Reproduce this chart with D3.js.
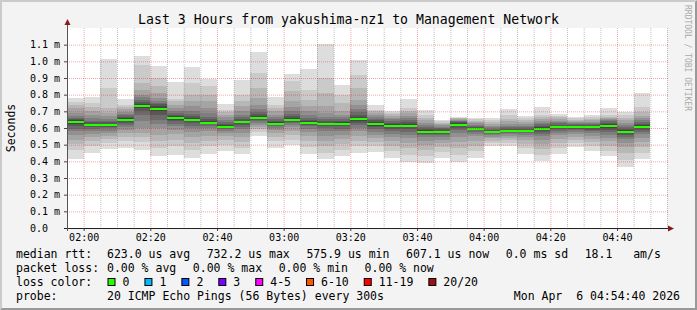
<!DOCTYPE html>
<html>
<head>
<meta charset="utf-8">
<script src="https://cdn.jsdelivr.net/npm/d3@7"></script>
<style>
  html, body { margin: 0; padding: 0; background: #f3f3f3; }
  svg { display: block; }
  text { font-family: "DejaVu Sans Mono", monospace; fill: #000; }
</style>
</head>
<body>
<script>
// end time of every 5 minute step
var binEnds = ["02:00","02:05","02:10","02:15","02:20","02:25","02:30","02:35","02:40","02:45",
  "02:50","02:55","03:00","03:05","03:10","03:15","03:20","03:25","03:30","03:35",
  "03:40","03:45","03:50","03:55","04:00","04:05","04:10","04:15","04:20","04:25",
  "04:30","04:35","04:40","04:45","04:50"];

// median rtt per step, in us
var medians = [638,618,618,650,732,716,658,650,632,608,636,662,626,650,632,622,626,656,624,614,
  614,578,578,620,596,576,584,584,596,608,608,604,614,576,607];

// the 20 sorted pings of every step, in us
var pings = [
  [414,470,505,530,560,582,596,612,626,634,641,646,652,660,672,690,720,740,756,782],
  [452,490,520,545,565,580,595,605,612,616,620,626,634,645,660,678,700,725,750,788],
  [476,510,535,555,570,585,598,606,612,616,620,626,634,642,652,670,690,720,840,1014],
  [482,520,548,570,590,605,620,632,640,646,654,660,668,676,686,698,712,726,738,774],
  [470,516,545,570,600,640,680,705,720,728,736,745,756,770,785,800,830,870,980,1034],
  [434,480,520,560,600,625,650,680,700,710,722,732,742,752,765,780,810,850,900,974],
  [440,490,530,565,590,610,625,640,650,655,662,670,680,692,705,720,740,760,775,878],
  [422,470,510,545,575,598,615,630,642,648,654,662,672,686,705,730,765,800,870,968],
  [446,490,525,555,580,600,612,622,628,631,635,642,652,668,690,720,760,800,852,896],
  [464,500,530,552,570,585,595,600,604,607,610,616,626,638,650,664,680,695,710,746],
  [446,480,515,545,570,592,608,620,630,634,638,644,652,664,680,700,730,765,800,890],
  [554,575,592,606,618,630,640,648,655,660,665,672,682,696,715,740,780,840,930,1058],
  [482,520,548,570,588,600,610,617,622,625,628,634,642,652,665,680,700,720,740,788],
  [500,530,560,585,605,620,630,638,645,648,652,660,670,684,700,725,760,820,882,924],
  [446,485,520,550,575,595,610,620,627,631,634,640,650,662,678,700,730,770,830,956],
  [416,450,490,525,555,580,598,610,617,620,624,630,640,652,668,690,730,810,900,1106],
  [434,470,505,535,560,580,597,610,618,622,627,634,642,652,664,680,702,750,800,858],
  [452,490,525,555,580,600,618,632,644,652,660,668,680,695,715,740,770,840,920,1008],
  [456,490,518,540,560,578,592,604,614,620,628,636,646,656,666,678,690,700,710,738],
  [422,460,495,525,548,566,582,596,606,612,617,624,632,642,652,662,672,682,692,702],
  [398,440,480,512,540,560,578,592,604,610,618,626,636,648,660,674,690,705,720,774],
  [392,430,468,500,525,545,558,566,572,576,580,586,594,604,616,630,646,662,680,708],
  [422,455,485,510,530,546,558,566,572,576,580,585,592,600,608,616,624,632,640,648],
  [398,440,480,515,545,570,588,602,612,617,623,628,634,640,645,650,655,660,663,666],
  [422,460,495,525,550,566,578,586,592,595,598,602,608,614,620,628,636,644,652,660],
  [494,510,525,538,548,556,563,568,572,575,578,582,588,596,605,615,626,638,648,660],
  [494,512,528,542,554,564,572,577,581,583,586,590,596,604,614,626,640,656,678,716],
  [446,478,505,528,546,560,570,577,581,583,586,590,596,604,614,626,638,650,662,672],
  [404,440,475,505,530,550,566,578,588,594,598,604,612,622,632,644,656,668,678,726],
  [446,480,510,536,556,572,584,594,602,606,610,614,620,628,636,644,654,664,672,684],
  [488,510,530,548,562,574,586,596,602,606,610,614,620,626,632,638,644,650,658,666],
  [464,490,514,536,554,568,580,590,598,602,606,610,616,622,630,638,646,656,666,678],
  [434,465,495,520,542,560,576,590,602,610,617,624,632,640,648,654,660,664,680,720],
  [368,410,450,485,512,532,548,560,568,573,579,586,594,604,616,630,646,662,680,698],
  [416,452,488,518,542,562,578,590,600,605,611,618,626,636,648,660,675,695,728,810]
];

var yTicks = [0,100,200,300,400,500,600,700,800,900,1000,1100];
var yTickLabels = ["0.0","0.1 m","0.2 m","0.3 m","0.4 m","0.5 m","0.6 m","0.7 m","0.8 m","0.9 m","1.0 m","1.1 m"];
var xTicks = ["02:00","02:20","02:40","03:00","03:20","03:40","04:00","04:20","04:40"];

var lossLabels = ["0","1","2","3","4-5","6-10","11-19","20/20"];
var lossColors = ["#26ff00","#00b8ff","#0059ff","#7e00ff","#ff00ff","#ff5500","#ff0000","#a01010"];

var rttStats = ["623.0 us avg","732.2 us max","575.9 us min","607.1 us now","0.0 ms sd","18.1   am/s"];
var lossStats = ["0.00 % avg","0.00 % max","0.00 % min","0.00 % now"];

// smoke greys, outer pair of pings first
var smokeGreys = ["#dddddd","#cacaca","#b7b7b7","#a4a4a4","#919191","#7e7e7e","#6b6b6b","#585858","#454545","#323232"];

var width = 697, height = 310;
var plotL = 67, plotR = 667, plotT = 28, plotB = 228;

var parse = d3.timeParse("%H:%M");
var x = d3.scaleTime().domain([parse("01:55"), parse("04:55")]).range([plotL, plotR]);
var y = d3.scaleLinear().domain([0, 1200]).range([plotB, plotT]);

var svg = d3.select("body").append("svg")
  .attr("width", width)
  .attr("height", height);

// background and 3d border
svg.append("rect").attr("width", width).attr("height", height).attr("fill", "#f3f3f3");
svg.append("path").attr("d", "M0,0H697L695,2H2V308L0,310Z").attr("fill", "#cbcbcb");
svg.append("path").attr("d", "M697,0V310H0L2,308H695V2Z").attr("fill", "#999999");

// canvas
svg.append("rect")
  .attr("x", plotL).attr("y", plotT)
  .attr("width", plotR - plotL).attr("height", plotB - plotT)
  .attr("fill", "#ffffff");

function stepX0(i) { return Math.round(x(d3.timeMinute.offset(parse(binEnds[i]), -5))); }
function stepX1(i) { return Math.round(x(parse(binEnds[i]))); }

// smoke
var smoke = svg.append("g");
pings.forEach(function(p, i) {
  smoke.selectAll(null)
    .data(smokeGreys)
    .enter().append("rect")
    .attr("x", stepX0(i))
    .attr("width", stepX1(i) - stepX0(i))
    .attr("y", function(c, k) { return Math.round(y(p[19 - k])); })
    .attr("height", function(c, k) { return Math.round(y(p[k])) - Math.round(y(p[19 - k])); })
    .attr("fill", function(c) { return c; });
});

// median line
svg.append("g").selectAll("rect")
  .data(medians)
  .enter().append("rect")
  .attr("x", function(d, i) { return stepX0(i); })
  .attr("width", function(d, i) { return stepX1(i) - stepX0(i); })
  .attr("y", function(d) { return Math.round(y(d)) - 1; })
  .attr("height", 2)
  .attr("fill", lossColors[0]);

// grid, drawn over the smoke like rrdtool does
var minorTimes = x.ticks(d3.timeMinute.every(5)).filter(function(t) { return t.getMinutes() % 20 != 0; });
svg.append("g")
  .attr("transform", "translate(0," + plotT + ")")
  .call(d3.axisBottom(x).tickValues(minorTimes).tickSize(plotB - plotT).tickFormat(""))
  .call(function(g) {
    g.select(".domain").remove();
    g.selectAll("line").attr("stroke", "rgba(120,120,120,0.45)").attr("stroke-dasharray", "1,1");
  });

svg.append("g")
  .attr("transform", "translate(0," + plotT + ")")
  .call(d3.axisBottom(x).tickValues(xTicks.map(parse)).tickSize(plotB - plotT).tickFormat(""))
  .call(function(g) {
    g.select(".domain").remove();
    g.selectAll("line").attr("stroke", "rgba(230,0,0,0.35)").attr("stroke-dasharray", "1,1");
  });

svg.append("g")
  .attr("transform", "translate(" + plotL + ",0)")
  .call(d3.axisRight(y).tickValues(yTicks.slice(1)).tickSize(plotR - plotL + 1).tickFormat(""))
  .call(function(g) {
    g.select(".domain").remove();
    g.selectAll("line").attr("stroke", "rgba(230,0,0,0.35)").attr("stroke-dasharray", "1,1");
  });

// axes with labels
svg.append("g")
  .attr("transform", "translate(0," + plotB + ")")
  .call(d3.axisBottom(x)
    .tickValues(xTicks.map(parse))
    .tickSize(3)
    .tickPadding(3)
    .tickFormat(function(d, i) { return xTicks[i]; }))
  .call(function(g) {
    g.select(".domain").remove();
    g.selectAll("line").attr("stroke", "#444");
    g.selectAll("text").attr("font-family", "DejaVu Sans Mono").attr("font-size", "10px").attr("fill", "#000");
  });

svg.append("g")
  .attr("transform", "translate(" + plotL + ",0)")
  .call(d3.axisLeft(y)
    .tickValues(yTicks)
    .tickSize(3)
    .tickFormat(function(d, i) { return yTickLabels[i]; }))
  .call(function(g) {
    g.select(".domain").remove();
    g.selectAll("line").attr("stroke", "#444");
    g.selectAll("text")
      .attr("font-family", "DejaVu Sans Mono")
      .attr("font-size", "10px")
      .attr("fill", "#000")
      .attr("text-anchor", "start")
      .attr("x", 30 - plotL);
  });

// axis lines and arrows
svg.append("line").attr("x1", plotL - 3).attr("x2", plotR + 3)
  .attr("y1", plotB + 0.5).attr("y2", plotB + 0.5).attr("stroke", "#222");
svg.append("line").attr("x1", plotL + 0.5).attr("x2", plotL + 0.5)
  .attr("y1", plotB + 3).attr("y2", plotT - 4).attr("stroke", "#555");
svg.append("path").attr("d", "M" + (plotR + 1) + "," + (plotB - 2.5) + "L" + (plotR + 7) + "," + (plotB + 0.5) + "L" + (plotR + 1) + "," + (plotB + 3.5) + "Z")
  .attr("fill", "#8b1a1a");
svg.append("path").attr("d", "M" + (plotL - 2.5) + "," + (plotT - 3) + "L" + (plotL + 0.5) + "," + (plotT - 9) + "L" + (plotL + 3.5) + "," + (plotT - 3) + "Z")
  .attr("fill", "#8b1a1a");

// title, unit, watermark
svg.append("text")
  .attr("x", width / 2).attr("y", 24)
  .attr("text-anchor", "middle")
  .attr("font-size", "13.2px")
  .text("Last 3 Hours from yakushima-nz1 to Management Network");

svg.append("text")
  .attr("transform", "translate(15," + (plotT + plotB) / 2 + ") rotate(-90)")
  .attr("text-anchor", "middle")
  .attr("font-size", "11.5px")
  .text("Seconds");

svg.append("text")
  .attr("transform", "translate(685,5) rotate(90)")
  .attr("font-size", "8px")
  .style("fill", "#aaaaaa")
  .text("RRDTOOL / TOBI OETIKER");

// legend
function legendRow(yb, label, items, gap) {
  svg.append("text").attr("x", 16).attr("y", yb).attr("font-size", "11.5px").text(label);
  var cx = 107;
  items.forEach(function(s) {
    var t = svg.append("text")
      .attr("x", cx).attr("y", yb)
      .attr("font-size", "11.5px")
      .style("white-space", "pre")
      .text(s);
    cx += t.node().getComputedTextLength() + gap;
  });
}

legendRow(258, "median rtt:", rttStats, 16.6);
legendRow(272, "packet loss:", lossStats, 16.6);

svg.append("text").attr("x", 16).attr("y", 286).attr("font-size", "11.5px").text("loss color:");
var lx = 107.5;
lossLabels.forEach(function(l, i) {
  svg.append("rect")
    .attr("x", lx + 0.5).attr("y", 278.5)
    .attr("width", 7).attr("height", 7)
    .attr("fill", lossColors[i])
    .attr("stroke", "#000");
  var t = svg.append("text")
    .attr("x", lx + 15).attr("y", 286)
    .attr("font-size", "11.5px")
    .text(l);
  lx = lx + 15 + t.node().getComputedTextLength() + 15;
});

svg.append("text").attr("x", 16).attr("y", 300).attr("font-size", "11.5px").text("probe:");
svg.append("text").attr("x", 107).attr("y", 300).attr("font-size", "11.5px")
  .text("20 ICMP Echo Pings (56 Bytes) every 300s");
svg.append("text").attr("x", 680).attr("y", 300).attr("font-size", "11.5px")
  .attr("text-anchor", "end")
  .style("white-space", "pre")
  .text("Mon Apr  6 04:54:40 2026");
</script>
</body>
</html>
